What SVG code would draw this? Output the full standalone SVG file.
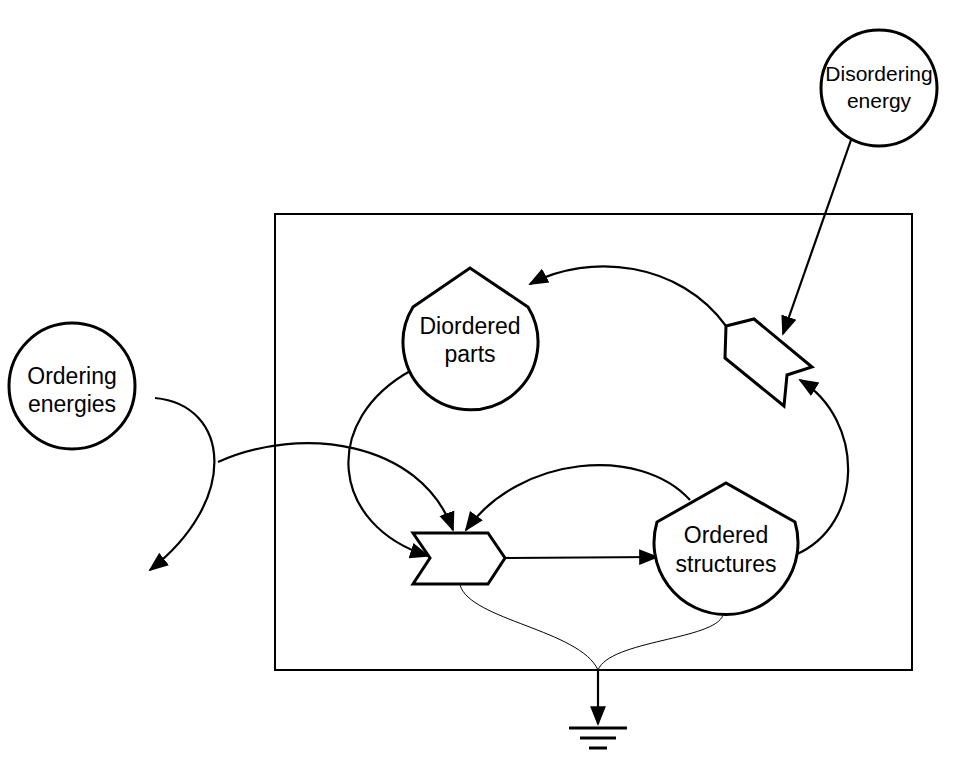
<svg xmlns="http://www.w3.org/2000/svg" width="975" height="759" viewBox="0 0 975 759">
<style>
.s{fill:#fff;stroke:#000;stroke-width:3}
.c{fill:none;stroke:#000;stroke-width:2.2}
.t{fill:none;stroke:#000;stroke-width:1}
text{font-family:"Liberation Sans",Arial,sans-serif;font-size:23px;text-anchor:middle}
</style>
<defs><marker id="b" viewBox="0 0 10 10" refX="9" refY="5" markerWidth="9" markerHeight="9" orient="auto"><path d="M0,1L10,5L0,9z"/></marker></defs>
<rect x="275" y="214" width="637" height="456" fill="none" stroke="#000" stroke-width="2"/>
<g id="connectors">
<path class="c" d="M851,140 L783,334" marker-end="url(#b)"/>
<path class="c" d="M726,326 C680,262 590,252 530,284" marker-end="url(#b)"/>
<path class="c" d="M795,555 C865,525 865,420 800,380" marker-end="url(#b)"/>
<path class="c" d="M412,370 C320,420 330,525 428,556" marker-end="url(#b)"/>
<path class="c" d="M155,398 C230,405 240,500 150,570" marker-end="url(#b)"/>
<path class="c" d="M218,462 C300,425 420,440 453,530" marker-end="url(#b)"/>
<path class="c" d="M690,500 C640,445 520,455 466,530" marker-end="url(#b)"/>
<path class="c" d="M505,558 L657,557" marker-end="url(#b)"/>
<path class="t" d="M460,585 C470,620 580,630 598,670 C610,640 715,640 723,615"/>
<path class="c" d="M598,670 L598,724" marker-end="url(#b)"/>
<path stroke="#000" stroke-width="3" d="M569,728H627M580,738H616M589,748H607"/>
</g>
<g id="disordering"><circle class="s" cx="879" cy="88" r="58"/><text x="879" y="81" style="font-size:21px">Disordering</text><text x="879" y="108" style="font-size:21px">energy</text></g>
<g id="ordering"><circle class="s" cx="72" cy="386" r="63"/><text x="72" y="384">Ordering</text><text x="72" y="412">energies</text></g>
<g id="diordered"><path class="s" d="M413,307 L470,268 L528,307 A67.5,67.5 0 1 1 413,307z"/><text x="470" y="334">Diordered</text><text x="470" y="362">parts</text></g>
<g id="ordered"><path class="s" d="M657,522 L726,483 L795,522 A72,72 0 1 1 657,522z"/><text x="726" y="543">Ordered</text><text x="726" y="572">structures</text></g>
<g id="chevron1"><path class="s" d="M413,533 L488,533 L505,558 L488,584 L413,584 L430,558z"/></g>
<g id="chevron2"><path class="s" d="M726,326 L754,319 L812,367 L787,375 L784,406 L725,358z"/></g>
</svg>
